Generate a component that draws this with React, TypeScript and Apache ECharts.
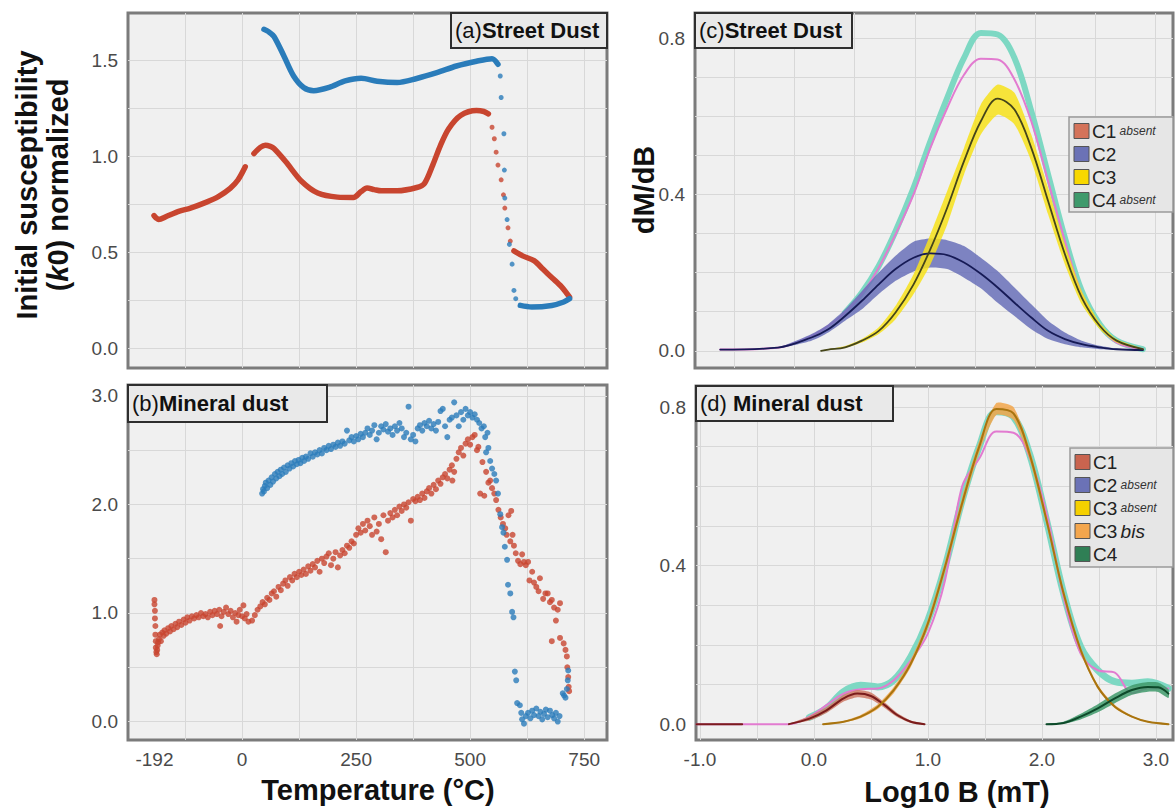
"use client";
import React, { useEffect, useRef } from "react";
import * as echarts from "echarts";

const FONT = '"Liberation Sans", Arial, Helvetica, sans-serif';

// (a) street dust, k0 vs temperature: [°C, k0]
const aRedCold = [[-193, 0.69], [-187, 0.675], [-183, 0.669], [-165, 0.686], [-139, 0.712], [-113, 0.729], [-78, 0.76], [-52, 0.789], [-26, 0.832], [-9, 0.875], [7, 0.944]];
const aRedWarm = [[26, 1.013], [40, 1.045], [51, 1.056], [62, 1.05], [70, 1.039], [96, 0.97], [131, 0.867], [166, 0.807], [209, 0.786], [244, 0.784], [261, 0.815], [274, 0.833], [290, 0.825], [305, 0.819], [340, 0.819], [383, 0.836], [400, 0.858], [418, 0.953], [435, 1.056], [453, 1.142], [479, 1.211], [514, 1.237], [530, 1.232], [540, 1.22]];
const aRedDrop = [[548, 1.15], [553, 1.09], [557, 1.02], [561, 0.953], [568, 0.876], [573, 0.798], [576, 0.729], [583, 0.626], [588, 0.557]];
const aRedTail = [[596, 0.506], [615, 0.48], [640, 0.455], [660, 0.41], [680, 0.365], [700, 0.32], [718, 0.265]];
const aBlueMain = [[48, 1.66], [58, 1.648], [70, 1.623], [92, 1.52], [113, 1.417], [135, 1.357], [157, 1.34], [191, 1.357], [226, 1.391], [261, 1.405], [296, 1.39], [340, 1.383], [383, 1.404], [427, 1.434], [470, 1.469], [514, 1.494], [548, 1.507], [561, 1.478]];
const aBlueDrop = [[566, 1.417], [568, 1.305], [574, 1.116], [575, 0.927], [576, 0.781], [581, 0.669], [586, 0.54], [592, 0.437], [596, 0.3], [600, 0.257]];
const aBlueTail = [[610, 0.222], [635, 0.214], [679, 0.222], [705, 0.24], [718, 0.257]];

// (b) mineral dust, k0 vs temperature
const bRed = [
  [-192, 1.12], [-192, 1.08], [-191, 1.02], [-191, 0.95], [-190, 0.88], [-190, 0.8], [-189, 0.74], [-189, 0.68], [-188, 0.64], [-187, 0.62], [-186, 0.66], [-185, 0.7], [-184, 0.73], [-182, 0.76], [-180, 0.8], [-178, 0.74], [-175, 0.82], [-172, 0.79], [-170, 0.84], [-166, 0.81], [-162, 0.86], [-158, 0.83], [-155, 0.88], [-150, 0.85], [-146, 0.9], [-142, 0.87], [-138, 0.92], [-133, 0.89], [-128, 0.94], [-124, 0.91], [-120, 0.96], [-115, 0.93], [-110, 0.97], [-105, 0.95], [-100, 0.98], [-95, 0.96], [-90, 1.0], [-85, 0.97], [-80, 0.99], [-75, 0.96], [-70, 1.01], [-65, 0.98], [-60, 1.02], [-55, 0.99], [-50, 1.03], [-48, 0.88], [-45, 0.97], [-40, 1.01], [-35, 1.05], [-30, 0.99], [-25, 1.02], [-20, 0.96], [-15, 1.0], [-12, 0.92], [-8, 0.98], [-5, 1.03], [0, 0.97], [3, 1.07], [6, 0.95], [10, 0.99], [14, 0.92],
  [22, 0.93], [28, 0.98], [34, 1.03], [40, 1.06], [45, 1.1], [50, 1.08], [55, 1.14], [60, 1.12], [65, 1.18], [70, 1.2], [75, 1.15], [80, 1.24], [85, 1.21], [90, 1.27], [95, 1.3], [100, 1.25], [105, 1.33], [110, 1.3], [115, 1.36], [120, 1.33], [125, 1.38], [130, 1.35], [135, 1.4], [140, 1.36], [145, 1.43], [150, 1.39], [155, 1.45], [160, 1.42], [165, 1.48], [170, 1.38], [175, 1.5], [180, 1.46], [185, 1.52], [190, 1.55], [195, 1.44], [200, 1.5], [205, 1.56], [210, 1.42], [215, 1.53], [220, 1.58], [225, 1.55], [230, 1.62], [235, 1.6], [240, 1.66], [245, 1.64], [250, 1.72], [255, 1.78], [260, 1.74], [265, 1.82], [270, 1.76], [275, 1.85], [280, 1.8], [285, 1.72], [290, 1.88], [295, 1.75], [300, 1.82], [305, 1.68], [310, 1.9], [315, 1.56], [320, 1.85], [325, 1.92], [330, 1.88], [335, 1.95], [340, 1.9], [345, 1.98], [350, 1.94], [355, 2.0], [360, 1.97], [365, 2.02], [370, 1.85], [375, 2.05], [380, 2.03], [385, 2.07], [390, 2.04], [395, 2.1], [400, 2.06], [405, 2.12], [410, 2.15], [415, 2.1], [420, 2.18], [425, 2.14], [430, 2.22], [435, 2.19], [440, 2.25], [445, 2.28], [450, 2.24], [455, 2.32], [460, 2.36], [461, 2.22], [465, 2.3], [470, 2.42], [475, 2.48], [480, 2.52], [485, 2.45], [490, 2.56], [495, 2.6], [500, 2.55], [505, 2.62], [510, 2.64], [515, 2.5], [518, 2.53], [522, 2.1], [527, 2.39], [531, 2.08], [535, 2.3], [540, 2.2], [544, 2.22], [548, 2.15], [553, 2.1], [557, 2.04], [562, 1.95], [567, 1.88], [572, 1.82], [577, 1.78], [580, 1.72], [584, 1.9], [588, 1.66], [590, 1.94], [593, 1.72], [596, 1.62], [600, 1.55], [605, 1.48], [610, 1.45], [614, 1.54], [618, 1.47], [622, 1.44], [627, 1.47], [630, 1.3], [636, 1.38], [640, 1.28], [645, 1.24], [650, 1.2], [653, 1.32], [660, 1.13], [665, 1.18], [670, 1.18], [675, 1.1], [679, 1.12], [684, 1.05], [688, 0.93], [692, 1.03], [697, 1.09], [679, 0.74], [697, 0.77], [705, 0.72], [709, 0.66], [712, 0.6], [713, 0.5], [715, 0.41], [716, 0.32], [717, 0.28],
];
const bBlue = [
  [44, 2.1], [46, 2.14], [48, 2.12], [50, 2.17], [52, 2.2], [55, 2.15], [58, 2.22], [62, 2.18], [65, 2.25], [68, 2.21], [72, 2.28], [75, 2.24], [78, 2.3], [82, 2.26], [85, 2.32], [88, 2.28], [92, 2.34], [96, 2.3], [100, 2.36], [104, 2.33], [108, 2.38], [112, 2.35], [116, 2.4], [120, 2.37], [124, 2.41], [128, 2.38], [132, 2.43], [136, 2.4], [140, 2.44], [145, 2.42], [150, 2.47], [155, 2.44], [160, 2.48], [165, 2.46], [170, 2.5], [175, 2.47], [180, 2.52], [185, 2.5], [190, 2.54], [195, 2.51], [200, 2.55], [205, 2.53], [210, 2.57], [215, 2.54], [220, 2.58], [225, 2.56], [230, 2.68], [235, 2.59], [240, 2.62], [245, 2.58], [250, 2.63], [255, 2.6], [260, 2.65], [265, 2.62], [270, 2.66], [275, 2.7], [280, 2.64], [285, 2.68], [290, 2.73], [295, 2.6], [300, 2.66], [305, 2.72], [310, 2.69], [315, 2.74], [320, 2.67], [325, 2.7], [330, 2.64], [335, 2.72], [340, 2.68], [345, 2.75], [350, 2.7], [355, 2.62], [360, 2.66], [365, 2.9], [370, 2.6], [375, 2.64], [380, 2.58], [385, 2.7], [390, 2.73], [395, 2.68], [400, 2.75], [405, 2.72], [410, 2.77], [415, 2.7], [420, 2.74], [425, 2.68], [430, 2.76], [435, 2.86], [440, 2.88], [445, 2.72], [450, 2.62], [455, 2.78], [460, 2.8], [465, 2.94], [470, 2.82], [475, 2.72], [480, 2.85], [485, 2.78], [490, 2.88], [495, 2.82], [500, 2.85], [505, 2.8], [510, 2.83], [515, 2.78], [520, 2.75], [525, 2.7], [530, 2.72], [533, 2.62], [535, 2.48], [538, 2.66], [540, 2.52], [544, 2.4], [548, 2.33], [553, 2.28], [557, 2.22], [561, 2.1], [566, 1.91], [570, 1.79], [573, 1.74], [576, 1.61], [581, 1.49], [583, 1.26], [588, 1.18], [592, 1.01], [595, 0.96],
  [598, 0.46], [601, 0.38], [603, 0.17], [609, 0.15], [612, 0.08], [614, 0.02], [618, -0.02], [622, 0.05], [627, 0.08], [632, 0.03], [636, 0.1], [640, 0.06], [645, 0.12], [650, 0.05], [654, 0.09], [658, 0.02], [662, 0.07], [666, 0.11], [670, 0.04], [675, 0.1], [680, 0.06], [684, 0.03], [688, 0.08], [692, 0.0], [696, 0.05], [703, 0.26], [706, 0.24], [709, 0.22], [712, 0.3], [714, 0.38], [715, 0.47],
];

// (c) street dust coercivity components, x = log10 B
const cX = [-0.62, -0.14, 0.14, 0.28, 0.42, 0.56, 0.7, 0.84, 0.99, 1.13, 1.27, 1.41, 1.55, 1.69, 1.83, 1.97, 2.11, 2.25, 2.39, 2.54, 2.68, 2.9];
const cMeasured = [null, null, null, null, 0.098, 0.149, 0.217, 0.306, 0.417, 0.536, 0.647, 0.749, 0.813, 0.809, 0.749, 0.613, 0.451, 0.289, 0.153, 0.068, 0.026, 0.004];
const cTotal = [0.003, 0.008, 0.038, 0.064, 0.098, 0.145, 0.213, 0.298, 0.4, 0.519, 0.621, 0.706, 0.747, 0.745, 0.694, 0.587, 0.434, 0.281, 0.145, 0.064, 0.021, 0.004];
const cC2 = [0.003, 0.008, 0.034, 0.055, 0.089, 0.128, 0.17, 0.209, 0.238, 0.249, 0.245, 0.226, 0.197, 0.162, 0.123, 0.085, 0.051, 0.03, 0.017, 0.009, 0.004, 0.002];
const cC2Hi = [0.003, 0.009, 0.043, 0.068, 0.106, 0.153, 0.2, 0.243, 0.279, 0.287, 0.283, 0.268, 0.238, 0.204, 0.162, 0.119, 0.077, 0.047, 0.026, 0.013, 0.006, 0.002];
const cC2Lo = [0.002, 0.007, 0.026, 0.047, 0.077, 0.106, 0.145, 0.179, 0.203, 0.213, 0.209, 0.187, 0.16, 0.123, 0.089, 0.055, 0.03, 0.017, 0.009, 0.004, 0.002, 0.001];
const c3X = [0.22, 0.28, 0.42, 0.56, 0.7, 0.84, 0.99, 1.13, 1.27, 1.41, 1.55, 1.69, 1.83, 1.97, 2.11, 2.25, 2.39, 2.54, 2.68, 2.9];
const cC3 = [0, 0.003, 0.009, 0.026, 0.051, 0.098, 0.17, 0.26, 0.366, 0.485, 0.587, 0.645, 0.617, 0.519, 0.383, 0.247, 0.136, 0.064, 0.026, 0.004];
const cC3Hi = [0.001, 0.004, 0.012, 0.03, 0.06, 0.115, 0.196, 0.298, 0.409, 0.519, 0.63, 0.681, 0.66, 0.553, 0.417, 0.272, 0.153, 0.072, 0.03, 0.005];
const cC3Lo = [0, 0.002, 0.007, 0.021, 0.043, 0.081, 0.145, 0.221, 0.323, 0.451, 0.553, 0.604, 0.579, 0.485, 0.349, 0.221, 0.119, 0.055, 0.021, 0.003];

// (d) mineral dust coercivity components
const dX = [-1.03, -0.63, -0.22, -0.04, 0.11, 0.26, 0.41, 0.56, 0.7, 0.85, 1.0, 1.15, 1.3, 1.45, 1.6, 1.75, 1.89, 2.04, 2.19, 2.34, 2.49, 2.64, 2.79, 2.93, 3.11];
const dMeasured = [null, null, null, 0.017, 0.04, 0.082, 0.098, 0.094, 0.111, 0.17, 0.262, 0.397, 0.565, 0.7, 0.788, 0.775, 0.683, 0.515, 0.33, 0.195, 0.136, 0.107, 0.103, 0.107, 0.09];
const dTotal = [0, 0, 0, 0.019, 0.048, 0.077, 0.088, 0.09, 0.111, 0.161, 0.229, 0.363, 0.6, 0.67, 0.738, 0.735, 0.675, 0.532, 0.321, 0.178, 0.136, 0.13, 0.078, 0.09, 0.09];
const d1X = [-1.03, -0.63, -0.4, -0.22, -0.04, 0.11, 0.26, 0.38, 0.5, 0.62, 0.73, 0.85, 0.97];
const dC1 = [0, 0, null, 0, 0.014, 0.035, 0.065, 0.077, 0.071, 0.048, 0.023, 0.006, 0];
const d1bX = [-0.22, -0.04, 0.11, 0.26, 0.38, 0.5, 0.62, 0.73, 0.85, 0.97];
const dC1Hi = [0.001, 0.02, 0.043, 0.074, 0.086, 0.08, 0.055, 0.028, 0.009, 0.001];
const dC1Lo = [0, 0.009, 0.028, 0.057, 0.068, 0.062, 0.041, 0.018, 0.003, 0];
const d3X = [0.08, 0.26, 0.41, 0.56, 0.7, 0.85, 1.0, 1.15, 1.3, 1.45, 1.6, 1.75, 1.89, 2.04, 2.19, 2.34, 2.49, 2.64, 2.79, 2.93, 3.11];
const dC3b = [0, 0.006, 0.019, 0.044, 0.086, 0.153, 0.254, 0.397, 0.557, 0.7, 0.795, 0.784, 0.683, 0.515, 0.33, 0.187, 0.094, 0.044, 0.019, 0.006, 0];
const dC3bHi = [0.001, 0.008, 0.023, 0.05, 0.094, 0.162, 0.265, 0.41, 0.572, 0.714, 0.81, 0.8, 0.697, 0.527, 0.34, 0.195, 0.099, 0.048, 0.021, 0.007, 0.001];
const dC3bLo = [0, 0.004, 0.015, 0.038, 0.078, 0.144, 0.243, 0.384, 0.542, 0.686, 0.78, 0.768, 0.669, 0.503, 0.32, 0.179, 0.089, 0.04, 0.017, 0.005, 0];
const d4X = [2.04, 2.19, 2.34, 2.49, 2.64, 2.79, 2.93, 3.02, 3.11];
const dC4 = [0, 0.003, 0.019, 0.04, 0.065, 0.086, 0.094, 0.093, 0.077];
const dC4Hi = [0.001, 0.006, 0.026, 0.05, 0.077, 0.098, 0.106, 0.105, 0.088];
const dC4Lo = [0, 0.001, 0.012, 0.03, 0.053, 0.074, 0.082, 0.081, 0.066];

// axis ticks / labels
const tempGrid = [-125, 0, 125, 250, 375, 500, 625, 750];
const tempLabels = [-192, 0, 250, 500, 750];
const aGrid = [0, 0.25, 0.5, 0.75, 1.0, 1.25, 1.5];
const aLabels = [0, 0.5, 1.0, 1.5];
const bGrid = [0, 0.5, 1.0, 1.5, 2.0, 2.5, 3.0];
const bLabels = [0, 1, 2, 3];
const logGrid = [-1, -0.5, 0, 0.5, 1, 1.5, 2, 2.5, 3];
const logLabels = [-1, 0, 1, 2, 3];
const dmGrid = [0, 0.1, 0.2, 0.3, 0.4, 0.5, 0.6, 0.7, 0.8];
const dmLabels = [0, 0.4, 0.8];

const cLegend = [["C1", "absent", "#d4735a"], ["C2", "", "#6b72b6"], ["C3", "", "#f8d800"], ["C4", "absent", "#3f9a6c"]];
const dLegend = [["C1", "", "#c9644f"], ["C2", "absent", "#6b72b6"], ["C3", "absent", "#f5d000"], ["C3", "bis", "#f3a64d"], ["C4", "", "#2f7f55"]];

const RED = "#c8452f";
const BLUE = "#2a7cba";

const xy = (xs: number[], ys: (number | null)[]) =>
  xs.map((x, i) => [x, ys[i] === null ? "-" : ys[i]]);

const line = (i: number, data: any[], color: string, width: number, z: number, smooth: any = 0.35) => ({
  type: "line", xAxisIndex: i, yAxisIndex: i, data, symbol: "none", smooth, connectNulls: false,
  lineStyle: { color, width, cap: "round", join: "round" }, z, silent: true,
});

const dots = (i: number, data: any[], color: string, size: number, z: number) => ({
  type: "scatter", xAxisIndex: i, yAxisIndex: i, data, symbolSize: size, itemStyle: { color }, z, silent: true,
});

// uncertainty band: polygon between lower and upper curve
const band = (i: number, xs: number[], lo: number[], hi: number[], color: string, z: number) => ({
  type: "custom", xAxisIndex: i, yAxisIndex: i, z, silent: true, clip: true,
  data: xs.map((x, k) => [x, lo[k], hi[k]]),
  encode: { x: 0, y: [1, 2] },
  renderItem: (params: any, api: any) => {
    if (params.dataIndexInside !== 0) return null;
    const n = params.dataInsideLength;
    const up: number[][] = [];
    const dn: number[][] = [];
    for (let k = 0; k < n; k++) {
      up.push(api.coord([api.value(0, k), api.value(2, k)]));
      dn.push(api.coord([api.value(0, k), api.value(1, k)]));
    }
    return {
      type: "polygon",
      shape: { points: up.concat(dn.reverse()), smooth: 0.2 },
      style: { fill: color, opacity: 0.85 },
    };
  },
});

const axis = (gridIndex: number, min: number, max: number, ticks: number[], labels?: number[], fmt?: (v: number) => string) => ({
  type: "value", gridIndex, min, max,
  axisLine: { show: false },
  axisTick: { show: false, customValues: ticks },
  splitLine: { show: true, lineStyle: { color: "#d8d8d8", width: 1 } },
  axisLabel: labels
    ? { show: true, customValues: labels, formatter: fmt, fontFamily: FONT, fontSize: 19, color: "#4a4a4a", margin: 10 }
    : { show: false },
});

const tag = (x: number, y: number, w: number, h: number, t: string, title: string) => [
  { type: "rect", shape: { x, y, width: w, height: h }, style: { fill: "#e9e9e9", stroke: "#2e2e2e", lineWidth: 2 }, z: 100 },
  {
    type: "text", x: x + 4, y: y + h / 2, z: 101,
    style: {
      text: `{n|${t}}{b|${title}}`, verticalAlign: "middle",
      rich: {
        n: { fontSize: 22, fontFamily: FONT, fill: "#111" },
        b: { fontSize: 22, fontFamily: FONT, fontWeight: "bold", fill: "#111" },
      },
    },
  },
];

const legend = (x: number, y: number, w: number, h: number, rows: string[][]) => {
  const els: any[] = [
    { type: "rect", shape: { x, y, width: w, height: h }, style: { fill: "#e6e6e6", stroke: "#9a9a9a", lineWidth: 1.5 }, z: 100 },
  ];
  rows.forEach(([name, note, color], k) => {
    const ry = y + 14 + k * 23;
    els.push({ type: "rect", shape: { x: x + 5, y: ry - 7.5, width: 15, height: 15 }, style: { fill: color, stroke: "#555", lineWidth: 1 }, z: 101 });
    const noteTxt = note === "" ? "" : note === "bis" ? ` {i|${note}}` : ` {s|${note}}`;
    els.push({
      type: "text", x: x + 23, y: ry, z: 101,
      style: {
        text: `{c|${name}}${noteTxt}`, verticalAlign: "middle",
        rich: {
          c: { fontSize: 19, fontFamily: FONT, fill: "#222" },
          s: { fontSize: 12, fontFamily: FONT, fontStyle: "italic", fill: "#333" },
          i: { fontSize: 19, fontFamily: FONT, fontStyle: "italic", fill: "#222" },
        },
      },
    });
  });
  return els;
};

const title = (x: number, y: number, text: string, rotate = false) => ({
  type: "text", x, y, rotation: rotate ? Math.PI / 2 : 0, z: 101,
  style: { text, fontSize: 29, fontWeight: "bold", fontFamily: FONT, fill: "#111", align: "center", verticalAlign: "middle" },
});

const App = () => {
  const chartRef = useRef<HTMLDivElement>(null);

  useEffect(() => {
    document.body.style.margin = "0";
    const chart = echarts.init(chartRef.current as HTMLDivElement, null, { renderer: "svg" });
    const gridBox = { show: true, backgroundColor: "#f0f0f0", borderColor: "#7b7b7b", borderWidth: 3 };
    const one = (v: number) => v.toFixed(1);

    const option = {
      animation: false,
      grid: [
        { ...gridBox, left: 128, top: 13, width: 479, height: 355 },
        { ...gridBox, left: 128, top: 385, width: 479, height: 355 },
        { ...gridBox, left: 695, top: 13, width: 478, height: 355 },
        { ...gridBox, left: 696, top: 386, width: 477, height: 354 },
      ],
      xAxis: [
        axis(0, -250, 800, tempGrid),
        axis(1, -250, 800, tempGrid, tempLabels, (v: number) => String(v)),
        axis(2, -0.83, 3.15, logGrid),
        axis(3, -1.035, 3.15, logGrid, logLabels, one),
      ],
      yAxis: [
        axis(0, -0.104, 1.745, aGrid, aLabels, one),
        axis(1, -0.17, 3.1, bGrid, bLabels, one),
        axis(2, -0.044, 0.864, dmGrid, dmLabels, one),
        axis(3, -0.04, 0.853, dmGrid, dmLabels, one),
      ],
      series: [
        // (a)
        line(0, aRedCold, RED, 5.5, 3, 0.3),
        line(0, aRedWarm, RED, 5.5, 3, 0.3),
        dots(0, aRedDrop, RED, 5, 3),
        line(0, aRedTail, RED, 5.5, 3, 0.3),
        line(0, aBlueMain, BLUE, 5.5, 4, 0.3),
        dots(0, aBlueDrop, BLUE, 5, 4),
        line(0, aBlueTail, BLUE, 5.5, 4, 0.3),
        // (b)
        dots(1, bRed, RED, 6, 3),
        dots(1, bBlue, BLUE, 6, 4),
        // (c)
        line(2, xy(cX, cMeasured), "#7dd8c3", 6, 2),
        line(2, xy(cX, cTotal), "#e27bd0", 2, 3),
        band(2, cX, cC2Lo, cC2Hi, "#6870b8", 4),
        band(2, c3X, cC3Lo, cC3Hi, "#f7e21a", 5),
        line(2, xy(cX, cC2), "#161a55", 1.8, 6),
        line(2, xy(c3X, cC3), "#45451a", 1.8, 6),
        // (d)
        line(3, xy(dX, dMeasured), "#7dd8c3", 7, 2),
        line(3, xy(dX, dTotal), "#e27bd0", 2, 3),
        band(3, d1bX, dC1Lo, dC1Hi, "#cf7a66", 4),
        band(3, d3X, dC3bLo, dC3bHi, "#f2a64a", 4),
        band(3, d4X, dC4Lo, dC4Hi, "#3f9a6b", 4),
        line(3, xy(d1X, dC1), "#7a1c1c", 2, 6),
        line(3, xy(d3X, dC3b), "#a8740f", 2, 6),
        line(3, xy(d4X, dC4), "#0d4a2a", 2, 6),
      ],
      graphic: [
        ...tag(451, 13, 156, 35, "(a)", "Street Dust"),
        ...tag(128, 385, 199, 37, "(b)", "Mineral dust"),
        ...tag(695, 13, 157, 35, "(c)", "Street Dust"),
        ...tag(696, 386, 197, 35, "(d) ", "Mineral dust"),
        ...legend(1069, 117, 104, 95, cLegend),
        ...legend(1070, 448, 103, 119, dLegend),
        title(378, 790, "Temperature (°C)"),
        title(957, 792, "Log10 B (mT)"),
        title(27, 185, "Initial susceptibility", true),
        {
          type: "text", x: 58, y: 185, rotation: Math.PI / 2, z: 101,
          style: {
            text: "({k|k}0) normalized", fontSize: 29, fontWeight: "bold", fontFamily: FONT, fill: "#111",
            align: "center", verticalAlign: "middle",
            rich: { k: { fontSize: 29, fontWeight: "bold", fontStyle: "italic", fontFamily: FONT, fill: "#111" } },
          },
        },
        title(644, 190, "dM/dB", true),
      ],
    };
    chart.setOption(option as any);

    return () => {
      chart.dispose();
    };
  }, []);

  return <div ref={chartRef} style={{ width: 1175, height: 809 }} />;
};

export default App;
